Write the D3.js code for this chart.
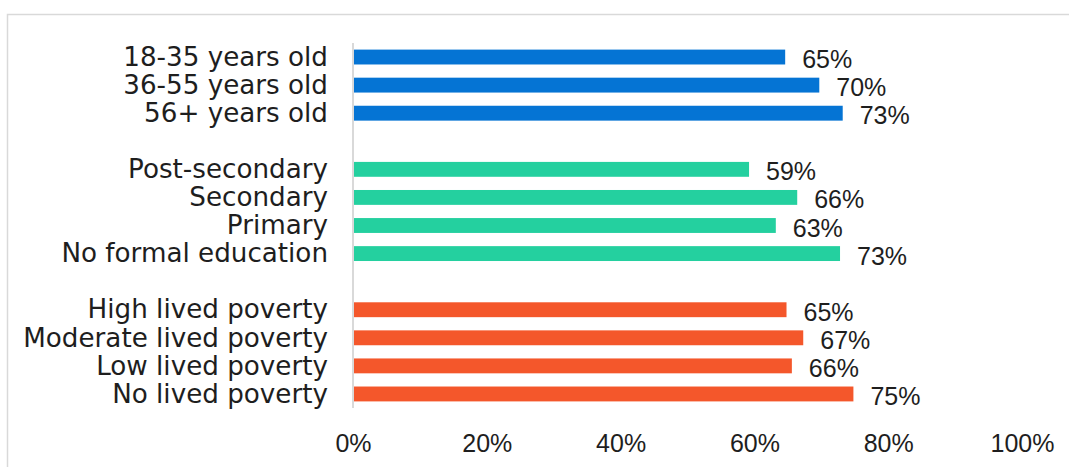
<!DOCTYPE html>
<html>
<head>
<meta charset="utf-8">
<script src="https://cdn.jsdelivr.net/npm/d3@7"></script>
<style>
  html, body { margin: 0; padding: 0; background: #fff; }
  svg { display: block; }
</style>
</head>
<body>
<svg id="chart" width="1069" height="467"></svg>
<script>
// ---- data ----
const categories = [
  "18-35 years old", "36-55 years old", "56+ years old",
  "Post-secondary", "Secondary", "Primary", "No formal education",
  "High lived poverty", "Moderate lived poverty", "Low lived poverty", "No lived poverty"
];
const groups = ["age", "age", "age", "edu", "edu", "edu", "edu", "pov", "pov", "pov", "pov"];
const values = [0.646, 0.697, 0.732, 0.592, 0.664, 0.632, 0.728, 0.648, 0.673, 0.656, 0.748];
const tickValues = [0, 0.2, 0.4, 0.6, 0.8, 1.0];
const groupColors = { age: "#0574d4", edu: "#24d09f", pov: "#f4572b" };

// ---- layout ----
const svg = d3.select("#chart");

// frame
svg.append("rect")
  .attr("x", 7.5).attr("y", 14.5)
  .attr("width", 1100).attr("height", 500)
  .attr("fill", "#fff").attr("stroke", "#d9d9d9").attr("stroke-width", 1.5);

// slot domain with spacers between groups
const slots = [];
categories.forEach((c, i) => {
  if (i > 0 && groups[i] !== groups[i - 1]) slots.push("__gap" + i);
  slots.push(c);
});

const x = d3.scaleLinear().domain([0, 1]).range([353, 1022]);
const y = d3.scaleBand().domain(slots).range([43, 408])
  .paddingInner(0.47).paddingOuter(0.235);

const rows = categories.map((c, i) => ({ cat: c, value: values[i], group: groups[i] }));

// bars
svg.append("g").selectAll("rect").data(rows).join("rect")
  .attr("x", x(0))
  .attr("y", d => y(d.cat))
  .attr("width", d => x(d.value) - x(0))
  .attr("height", y.bandwidth())
  .attr("fill", d => groupColors[d.group]);

// vertical axis line
svg.append("line")
  .attr("x1", x(0)).attr("x2", x(0))
  .attr("y1", y.range()[0]).attr("y2", y.range()[1])
  .attr("stroke", "#d9d9d9").attr("stroke-width", 2);

// category labels
svg.append("g").selectAll("text").data(rows).join("text")
  .attr("x", 328)
  .attr("y", d => y(d.cat) + y.bandwidth() / 2)
  .attr("dy", 8.7)
  .attr("text-anchor", "end")
  .attr("font-family", "DejaVu Sans, sans-serif")
  .attr("font-size", 26.2)
  .attr("fill", "#1e1e1e")
  .text(d => d.cat);

// value labels
const fmt = d3.format(".0%");
svg.append("g").selectAll("text").data(rows).join("text")
  .attr("x", d => x(d.value) + 17)
  .attr("y", d => y(d.cat) + y.bandwidth() / 2)
  .attr("dy", 11)
  .attr("text-anchor", "start")
  .attr("font-family", "Liberation Sans, Arial, sans-serif")
  .attr("font-size", 25)
  .attr("fill", "#1e1e1e")
  .text(d => fmt(d.value));

// x axis tick labels
const xAxis = d3.axisBottom(x).tickValues(tickValues).tickFormat(fmt).tickSize(0).tickPadding(0);
const gx = svg.append("g").attr("transform", "translate(0,452)").call(xAxis);
gx.select(".domain").remove();
gx.selectAll("text")
  .attr("y", 0).attr("dy", 0)
  .attr("font-family", "Liberation Sans, Arial, sans-serif")
  .attr("font-size", 25)
  .attr("fill", "#1e1e1e");
</script>
</body>
</html>
